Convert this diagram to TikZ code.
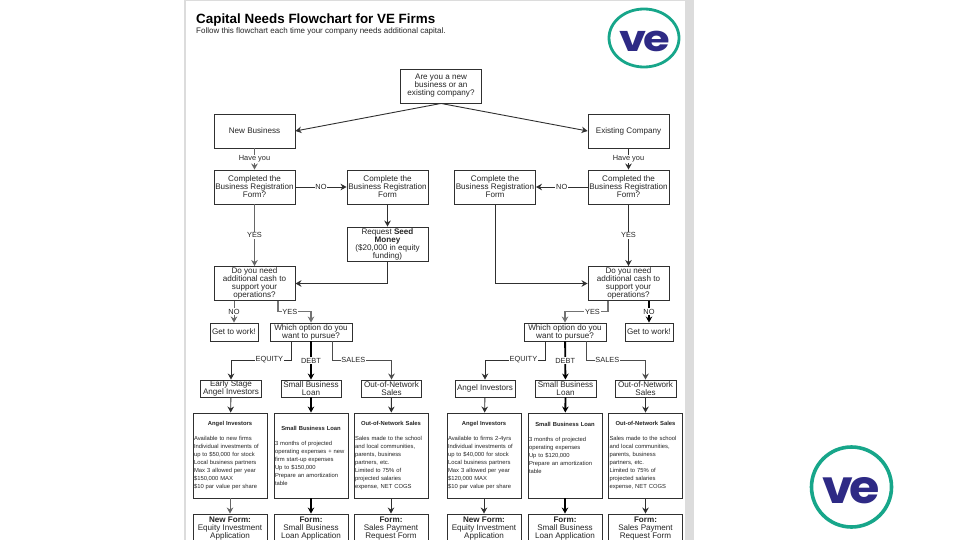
\documentclass[tikz,border=0pt]{standalone}
\usepackage{fontspec}
\setmainfont{Liberation Sans}
\newfontfamily\logofont{Poppins}
\usetikzlibrary{arrows.meta}
\usetikzlibrary{shapes.geometric}
\definecolor{pagegray}{HTML}{DCDCDC}
\definecolor{logoteal}{HTML}{17A68A}
\definecolor{logonavy}{HTML}{2E2A85}
\definecolor{linedark}{HTML}{303030}
\newcommand{\cardtitle}[1]{\makebox[\hsize]{\bfseries #1}}
\tikzset{
  flowbox/.style={draw=linedark, line width=0.9pt, fill=white, align=center, inner sep=0pt,
    font=\fontsize{8.1}{8}\selectfont, text=black!85},
  cardbox/.style={flowbox, minimum width=74pt, minimum height=85pt, text width=72pt, align=left,
    font=\fontsize{5.85}{8}\selectfont},
  formbox/.style={flowbox, minimum width=74pt, minimum height=30pt},
  flowline/.style={draw=linedark, line width=0.9pt, ->, >={Stealth[length=6pt,width=6.5pt]}},
  heavyline/.style={flowline, draw=black, line width=1.8pt},
  paleline/.style={flowline, draw=black!55, line width=1.3pt},
  edgelabel/.style={fill=white, inner sep=0.8pt, font=\fontsize{7.4}{8}\selectfont, text=black!85},
  logoring/.style={draw=logoteal, ellipse, inner sep=0pt},
}
\begin{document}
\begin{tikzpicture}[x=1pt, y=-1pt]
  \clip (0,0) rectangle (960,540);
  \fill[white] (0,0) rectangle (960,540);
  \fill[pagegray] (183.5,0) rectangle (694,540);
  \fill[white] (186,1.5) rectangle (685,540);

  \node[anchor=west, inner sep=0pt, font=\bfseries\fontsize{13.4}{14}\selectfont] (title) at (196,20.5) {Capital Needs Flowchart for VE Firms};
  \node[anchor=west, inner sep=0pt, font=\fontsize{8}{9}\selectfont, text=black!85] (subtitle) at (196,31) {Follow this flowchart each time your company needs additional capital.};

  \node[logoring, line width=2.8pt, minimum width=70pt, minimum height=58pt] (logotop) at (644,38) {};
  \node[inner sep=0pt, text=logonavy, font=\logofont\bfseries\fontsize{36}{36}\selectfont] (vetop) at (645,41) {\scalebox{1.2}[1]{v\kern-3pt e}};
  \node[logoring, line width=3.6pt, minimum width=80pt, minimum height=80pt] (logobot) at (851.5,487) {};
  \node[inner sep=0pt, text=logonavy, font=\logofont\bfseries\fontsize{46}{46}\selectfont] (vebot) at (851.5,491) {\scalebox{1.07}[1]{v\kern-3.5pt e}};

  \node[flowbox, minimum width=81pt, minimum height=34pt] (start) at (441,86) {Are you a new\\business or an\\existing company?};
  \node[flowbox, minimum width=81pt, minimum height=34pt] (newbiz) at (254.5,131) {New Business};
  \node[flowbox, minimum width=81pt, minimum height=34pt] (oldbiz) at (628.5,131) {Existing Company};

  \node[flowbox, minimum width=81pt, minimum height=34pt] (regaskL) at (254.5,187) {Completed the\\Business Registration\\Form?};
  \node[flowbox, minimum width=81pt, minimum height=34pt] (regdoL) at (387.5,187) {Complete the\\Business Registration\\Form};
  \node[flowbox, minimum width=81pt, minimum height=34pt] (seed) at (387.5,244) {Request \textbf{Seed}\\\textbf{Money}\\(\$20,000 in equity\\funding)};
  \node[flowbox, minimum width=81pt, minimum height=34pt] (cashL) at (254.5,283.5) {Do you need\\additional cash to\\support your\\operations?};
  \node[flowbox, minimum width=48pt, minimum height=18pt] (workL) at (234,332) {Get to work!};
  \node[flowbox, minimum width=82pt, minimum height=18pt] (whichL) at (311,332) {Which option do you\\want to pursue?};

  \node[flowbox, minimum width=81pt, minimum height=34pt] (regaskR) at (628.5,187) {Completed the\\Business Registration\\Form?};
  \node[flowbox, minimum width=81pt, minimum height=34pt] (regdoR) at (495,187) {Complete the\\Business Registration\\Form};
  \node[flowbox, minimum width=81pt, minimum height=34pt] (cashR) at (628.5,283.5) {Do you need\\additional cash to\\support your\\operations?};
  \node[flowbox, minimum width=48pt, minimum height=18pt] (workR) at (649,332) {Get to work!};
  \node[flowbox, minimum width=82pt, minimum height=18pt] (whichR) at (565,332) {Which option do you\\want to pursue?};

  \node[flowbox, minimum width=61pt, minimum height=17pt] (angelL) at (231,388.5) {Early Stage\\Angel Investors};
  \node[flowbox, minimum width=60pt, minimum height=17pt] (loanL) at (311,388.5) {Small Business\\Loan};
  \node[flowbox, minimum width=60pt, minimum height=17pt] (salesL) at (391.5,388.5) {Out-of-Network\\Sales};
  \node[flowbox, minimum width=60pt, minimum height=17pt] (angelR) at (485,388.5) {Angel Investors};
  \node[flowbox, minimum width=61pt, minimum height=17pt] (loanR) at (565.5,388.5) {Small Business\\Loan};
  \node[flowbox, minimum width=61pt, minimum height=17pt] (salesR) at (645.5,388.5) {Out-of-Network\\Sales};

  \node[cardbox] (cardaL) at (230,455.5) {\cardtitle{Angel Investors}\\[7pt]Available to new firms\\Individual investments of\\up to \$50,000 for stock\\Local business partners\\Max 3 allowed per year\\\$150,000 MAX\\\$10 par value per share};
  \node[cardbox] (cardbL) at (311,455.5) {\cardtitle{Small Business Loan}\\[7pt]3 months of projected\\operating expenses + new\\firm start-up expenses\\Up to \$150,000\\Prepare an amortization\\table};
  \node[cardbox] (cardcL) at (391,455.5) {\cardtitle{Out-of-Network Sales}\\[7pt]Sales made to the school\\and local communities,\\parents, business\\partners, etc.\\Limited to 75\% of\\projected salaries\\expense, NET COGS};
  \node[cardbox] (cardaR) at (484,455.5) {\cardtitle{Angel Investors}\\[7pt]Available to firms 2-4yrs\\Individual investments of\\up to \$40,000 for stock\\Local business partners\\Max 3 allowed per year\\\$120,000 MAX\\\$10 par value per share};
  \node[cardbox] (cardbR) at (565,455.5) {\cardtitle{Small Business Loan}\\[7pt]3 months of projected\\operating expenses\\Up to \$120,000\\Prepare an amortization\\table\\\mbox{}\\\mbox{}};
  \node[cardbox] (cardcR) at (645.5,455.5) {\cardtitle{Out-of-Network Sales}\\[7pt]Sales made to the school\\and local communities,\\parents, business\\partners, etc.\\Limited to 75\% of\\projected salaries\\expense, NET COGS};

  \node[formbox] (formaL) at (230,529) {\textbf{New Form:}\\Equity Investment\\Application};
  \node[formbox] (formbL) at (311,529) {\textbf{Form:}\\Small Business\\Loan Application};
  \node[formbox] (formcL) at (391,529) {\textbf{Form:}\\Sales Payment\\Request Form};
  \node[formbox] (formaR) at (484,529) {\textbf{New Form:}\\Equity Investment\\Application};
  \node[formbox] (formbR) at (565,529) {\textbf{Form:}\\Small Business\\Loan Application};
  \node[formbox] (formcR) at (645.5,529) {\textbf{Form:}\\Sales Payment\\Request Form};

  \coordinate (yesoutL) at (278,300.5);
  \coordinate (yesmidL) at (311,311.7);
  \coordinate (yesoutR) at (608,300.5);
  \coordinate (yesmidR) at (565,311.7);
  \coordinate (eqoutL) at (291,341);
  \coordinate (eqmidL) at (231,360);
  \coordinate (saoutL) at (332,341);
  \coordinate (samidL) at (391.5,360);
  \coordinate (eqoutR) at (545,341);
  \coordinate (eqmidR) at (485,360);
  \coordinate (saoutR) at (586,341);
  \coordinate (samidR) at (645.5,360);

  \draw[flowline] (start.south) -- (newbiz.east);
  \draw[flowline] (start.south) -- (oldbiz.west);
  \draw[flowline, draw=black!60] (newbiz) -- node[edgelabel] (haveL) {Have you} (regaskL);
  \draw[flowline] (oldbiz) -- node[edgelabel] (haveR) {Have you} (regaskR);
  \draw[flowline] (regaskL) -- node[edgelabel] (noregL) {NO} (regdoL);
  \draw[flowline] (regaskR) -- node[edgelabel] (noregR) {NO} (regdoR);
  \draw[flowline, draw=black!60] (regaskL) -- node[edgelabel] (yesregL) {YES} (cashL);
  \draw[flowline] (regaskR) -- node[edgelabel] (yesregR) {YES} (cashR);
  \draw[flowline] (regdoL) -- (seed);
  \draw[flowline] (seed.south) |- (cashL.east);
  \draw[flowline] (regdoR.south) |- (cashR.west);
  \draw[flowline, draw=black!60] (workL.north |- cashL.south) -- node[edgelabel] (nocashL) {NO} (workL.north);
  \draw[heavyline] (workR.north |- cashR.south) -- node[edgelabel] (nocashR) {NO} (workR.north);
  \draw[paleline] (yesoutL) |- node[edgelabel, pos=0.68] (yescashL) {YES} (yesmidL) -- (whichL.north);
  \draw[paleline] (yesoutR) |- node[edgelabel, pos=0.68] (yescashR) {YES} (yesmidR) -- (whichR.north);

  \draw[flowline] (eqoutL) |- node[edgelabel, pos=0.68] (equityL) {EQUITY} (eqmidL) -- (angelL);
  \draw[heavyline] (whichL) -- node[edgelabel] (debtL) {DEBT} (loanL);
  \draw[flowline, draw=black!70] (saoutL) |- node[edgelabel, pos=0.68] (salesedgeL) {SALES} (samidL) -- (salesL);
  \draw[flowline] (eqoutR) |- node[edgelabel, pos=0.68] (equityR) {EQUITY} (eqmidR) -- (angelR);
  \draw[heavyline] (whichR) -- node[edgelabel] (debtR) {DEBT} (loanR);
  \draw[flowline, draw=black!70] (saoutR) |- node[edgelabel, pos=0.68] (salesedgeR) {SALES} (samidR) -- (salesR);

  \draw[flowline] (angelL) -- (cardaL);
  \draw[heavyline] (loanL) -- (cardbL);
  \draw[flowline] (salesL) -- (cardcL);
  \draw[flowline] (angelR) -- (cardaR);
  \draw[heavyline] (loanR) -- (cardbR);
  \draw[flowline] (salesR) -- (cardcR);

  \draw[flowline, draw=black!60] (cardaL) -- (formaL);
  \draw[heavyline] (cardbL) -- (formbL);
  \draw[flowline] (cardcL) -- (formcL);
  \draw[flowline] (cardaR) -- (formaR);
  \draw[heavyline] (cardbR) -- (formbR);
  \draw[flowline] (cardcR) -- (formcR);
\end{tikzpicture}
\end{document}
